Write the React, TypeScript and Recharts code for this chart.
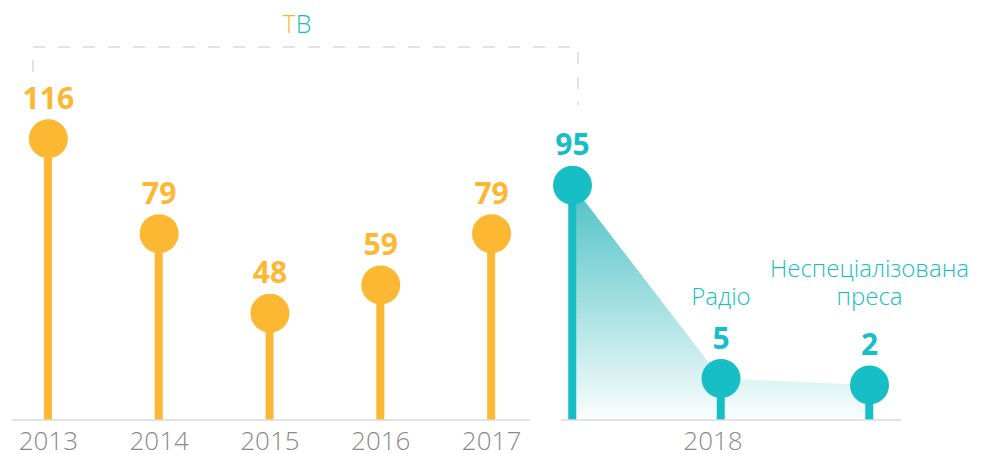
import { ComposedChart, Bar, Line, Area, XAxis, YAxis, LabelList } from 'recharts'

// ТВ cases by year
const years = [2013, 2014, 2015, 2016, 2017]
const tvByYear = [116, 79, 48, 59, 79]

// 2018 split by media type
const media2018 = ['ТВ', 'Радіо', 'Неспеціалізована преса']
const cases2018 = [95, 5, 2]
const year2018 = '2018'

const ORANGE = '#FDB833'
const TEAL = '#17BEC5'
const GRID = '#dadada'
const FONT = '"Open Sans", sans-serif'

const tvData = years.map((year, i) => ({ year, value: tvByYear[i] }))
const mediaData = media2018.map((name, i) => ({ idx: i, name, value: cases2018[i] }))

// axis domains tuned so the two panels line up like the original layout
const LEFT_X_DOMAIN = [2012.672, 2017.347]
const LEFT_Y_DOMAIN = [6.35, 162.3]
const RIGHT_X_DOMAIN = [-0.0774, 2.212]
const RIGHT_Y_DOMAIN = [-14.3, 172]

const tickStyle = { fill: '#8a8a8a', fontSize: 26, fontWeight: 300, fontFamily: FONT }
const valueLabel = { fontSize: 30, fontWeight: 700, fontFamily: FONT }

function MediaName(props: any) {
  const { x, index, value } = props
  if (index === 0) return null
  const lines = String(value).split(' ')
  const baseline = 305
  return (
    <text textAnchor="middle" fill={TEAL} fontSize={24} fontWeight={300} fontFamily={FONT}>
      {lines.map((l, i) => (
        <tspan key={i} x={x} y={baseline - (lines.length - 1 - i) * 28}>
          {l}
        </tspan>
      ))}
    </text>
  )
}

export default function App() {
  return (
    <div style={{ position: 'absolute', left: 0, top: 0, width: 987, height: 454, background: '#fff' }}>
      <div style={{ position: 'absolute', left: 0, top: 0 }}>
        <ComposedChart width={540} height={454} data={tvData} margin={{ top: 20, right: 10, bottom: 4, left: 12 }}>
          <XAxis
            type="number"
            dataKey="year"
            domain={LEFT_X_DOMAIN}
            ticks={years}
            interval={0}
            tickLine={false}
            axisLine={{ stroke: GRID, strokeWidth: 1.5 }}
            tick={tickStyle}
            tickMargin={6}
            height={30}
          />
          <YAxis hide domain={LEFT_Y_DOMAIN} />
          <Bar dataKey="value" barSize={8} fill={ORANGE} isAnimationActive={false} />
          <Line
            dataKey="value"
            stroke="none"
            dot={{ r: 19.5, fill: ORANGE, stroke: 'none' }}
            activeDot={false}
            isAnimationActive={false}
          >
            <LabelList dataKey="value" position="top" offset={30} fill={ORANGE} {...valueLabel} />
          </Line>
        </ComposedChart>
      </div>

      <div style={{ position: 'absolute', left: 531, top: 0 }}>
        <ComposedChart width={456} height={454} data={mediaData} margin={{ top: 20, right: 86, bottom: 4, left: 30 }}>
          <defs>
            <linearGradient id="tealFade" x1="0" y1="0" x2="0" y2="1">
              <stop offset="0%" stopColor="#2cb6ba" stopOpacity={0.85} />
              <stop offset="100%" stopColor="#2cb6ba" stopOpacity={0.02} />
            </linearGradient>
          </defs>
          <XAxis
            type="number"
            dataKey="idx"
            domain={RIGHT_X_DOMAIN}
            ticks={[1]}
            tickFormatter={() => year2018}
            tickLine={false}
            axisLine={{ stroke: GRID, strokeWidth: 1.5 }}
            tick={{ ...tickStyle, dx: -8 }}
            tickMargin={6}
            height={30}
          />
          <YAxis hide domain={RIGHT_Y_DOMAIN} />
          <Area
            dataKey="value"
            type="linear"
            baseValue={RIGHT_Y_DOMAIN[0]}
            fill="url(#tealFade)"
            fillOpacity={1}
            stroke="none"
            activeDot={false}
            isAnimationActive={false}
          />
          <Bar
            dataKey={(d: any) => [RIGHT_Y_DOMAIN[0], d.value]}
            barSize={8}
            fill={TEAL}
            isAnimationActive={false}
          />
          <Line
            dataKey="value"
            stroke="none"
            dot={{ r: 19.5, fill: TEAL, stroke: 'none' }}
            activeDot={false}
            isAnimationActive={false}
          >
            <LabelList dataKey="value" position="top" offset={30} fill={TEAL} {...valueLabel} />
            <LabelList dataKey="name" content={MediaName} />
          </Line>
        </ComposedChart>
      </div>

      <svg width={987} height={454} style={{ position: 'absolute', left: 0, top: 0, pointerEvents: 'none' }}>
        <path d="M33 72 V47 H578 V105" fill="none" stroke={GRID} strokeWidth={1.5} strokeDasharray="12 13" />
        <text x={297} y={33} textAnchor="middle" fontSize={25} fontWeight={300} fontFamily={FONT}>
          <tspan fill={ORANGE}>{media2018[0][0]}</tspan>
          <tspan fill={TEAL}>{media2018[0].slice(1)}</tspan>
        </text>
      </svg>
    </div>
  )
}
